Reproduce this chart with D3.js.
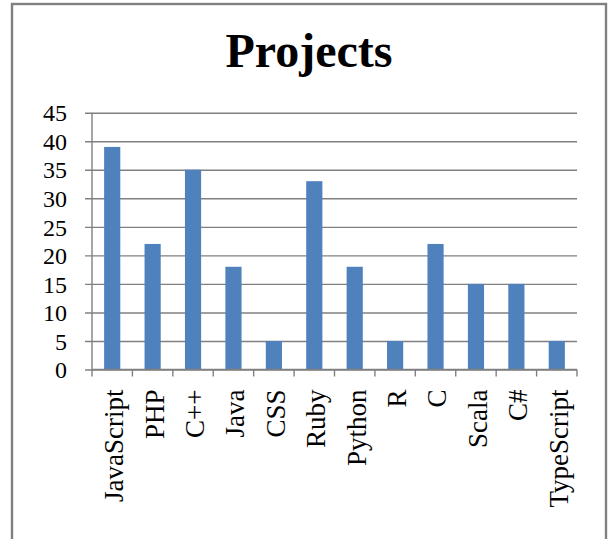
<!DOCTYPE html>
<html>
<head>
<meta charset="utf-8">
<script src="https://cdn.jsdelivr.net/npm/d3@7"></script>
<style>
html,body{margin:0;padding:0;background:#fff;}
svg{display:block;}
text{font-family:"Liberation Serif","Times New Roman",serif;fill:#000;}
</style>
</head>
<body>
<svg id="chart" width="608" height="539"></svg>
<script>
const categories = ["JavaScript","PHP","C++","Java","CSS","Ruby","Python","R","C","Scala","C#","TypeScript"];
const values = [39,22,35,18,5,33,18,5,22,15,15,5];
const yTicks = [0,5,10,15,20,25,30,35,40,45];
const title = "Projects";

const svg = d3.select("#chart");
const W = 608, H = 539;
const plot = {left: 92, right: 577, top: 112.7, bottom: 369.5};

// outer frame
svg.append("rect").attr("x",12).attr("y",4).attr("width",594).attr("height",H)
  .attr("fill","#fff").attr("stroke","#808080").attr("stroke-width",2.4);

const x = d3.scaleBand().domain(categories).range([plot.left, plot.right]).paddingInner(0.6).paddingOuter(0.3);
const xb = d3.scaleBand().domain(categories).range([plot.left, plot.right]);
const y = d3.scaleLinear().domain([0,45]).range([plot.bottom, plot.top]);

// gridlines + y axis ticks
const yAxis = d3.axisLeft(y).tickValues(yTicks).tickSize(-(plot.right-plot.left)).tickSizeOuter(0).tickPadding(25);
const gy = svg.append("g").attr("transform",`translate(${plot.left},0)`).call(yAxis);
gy.select(".domain").remove();
gy.selectAll(".tick line").attr("stroke","#808080").attr("stroke-width",1.4).attr("x2",-7).attr("x1",plot.right-plot.left);
gy.selectAll(".tick text").attr("font-size",24).attr("font-family","Liberation Serif").attr("fill","#000")
  .attr("x",-25).attr("dy","0.34em");

// bars
svg.append("g").selectAll("rect").data(values).join("rect")
  .attr("x",(d,i)=>x(categories[i]))
  .attr("width",x.bandwidth())
  .attr("y",d=>y(d))
  .attr("height",d=>y(0)-y(d))
  .attr("fill","#4F81BD");

// y axis line
svg.append("line").attr("x1",plot.left).attr("x2",plot.left).attr("y1",plot.top).attr("y2",plot.bottom)
  .attr("stroke","#808080").attr("stroke-width",1.4);
// x axis line
svg.append("line").attr("x1",plot.left).attr("x2",plot.right).attr("y1",plot.bottom).attr("y2",plot.bottom)
  .attr("stroke","#808080").attr("stroke-width",1.4);
// x ticks at band boundaries
const bounds = categories.map(c=>xb(c)).concat([plot.right]);
svg.append("g").selectAll("line").data(bounds).join("line")
  .attr("x1",d=>d).attr("x2",d=>d).attr("y1",plot.bottom).attr("y2",plot.bottom+7)
  .attr("stroke","#808080").attr("stroke-width",1.4);

// category labels
svg.append("g").selectAll("text").data(categories).join("text")
  .attr("transform",d=>`translate(${xb(d)+xb.bandwidth()/2+1.5},${plot.bottom+20}) rotate(-90)`)
  .attr("text-anchor","end").attr("dy","0.35em").attr("font-size",27).text(d=>d);

// title
svg.append("text").attr("x",309).attr("y",67).attr("text-anchor","middle")
  .attr("font-size",48).attr("font-weight","bold").text(title);
</script>
</body>
</html>
